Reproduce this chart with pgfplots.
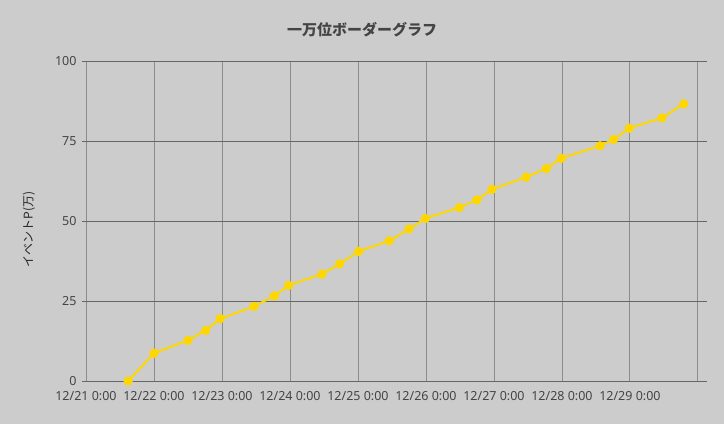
\documentclass[border=0pt]{standalone}
\usepackage{fontspec}
\setmainfont{Noto Sans}
\newfontfamily\jp{Noto Sans CJK JP}
\usepackage{pgfplots}
\pgfplotsset{compat=1.18}
\definecolor{bgc}{HTML}{CCCCCC}
\definecolor{gold}{HTML}{FFD700}
\definecolor{hgrid}{HTML}{666666}
\definecolor{vgrid}{HTML}{8C8C8C}
\definecolor{txt}{HTML}{444444}
\begin{document}
\begin{tikzpicture}[x=1pt,y=1pt]
\useasboundingbox (0,0) rectangle (724,424);
\fill[bgc] (0,0) rectangle (724,424);
\node[text=txt] at (362,394) {\jp\bfseries\fontsize{15}{18}\selectfont 一万位ボーダーグラフ};
\node[rotate=90,text=black!85] at (29,194.5) {\jp\fontsize{12}{14}\selectfont イベントP(万)};
\begin{axis}[
  at={(86pt,43pt)}, anchor=south west,
  scale only axis, width=616.7pt, height=320pt,
  xmin=0, xmax=9.07, ymin=0, ymax=100,
  axis line style={draw=none},
  xtick={0,1,2,3,4,5,6,7,8,9},
  xticklabels={12/21 0:00,12/22 0:00,12/23 0:00,12/24 0:00,12/25 0:00,12/26 0:00,12/27 0:00,12/28 0:00,12/29 0:00,},
  ytick={25,50,75,100},
  extra y ticks={0},
  extra y tick style={grid style={black,line width=1.4pt}, major tick style={black,line width=1pt}},
  xmajorgrids, ymajorgrids,
  x grid style={vgrid,line width=0.9pt},
  y grid style={hgrid,line width=0.9pt},
  major x tick style={draw=none},
  major y tick style={hgrid,line width=0.9pt},
  tick align=outside, major tick length=4pt,
  ticklabel style={text=txt,font=\fontsize{12.5}{14}\selectfont},
  /pgf/number format/assume math mode=true,
  xticklabel style={yshift=-3pt},
  yticklabel style={xshift=-2pt},
  clip=false,
]
\addplot[gold, line width=2pt, mark=*, mark size=3.6pt, mark options={draw=gold,fill=gold}] coordinates {
(0.62,0) (1.00,8.7) (1.50,12.7) (1.76,15.8) (1.975,19.5) (2.47,23.3) (2.77,26.6) (2.98,29.9)
(3.47,33.4) (3.73,36.6) (4.01,40.5) (4.46,43.8) (4.75,47.5) (4.99,50.8) (5.49,54.2) (5.75,56.6)
(5.97,59.9) (6.47,63.7) (6.77,66.4) (6.99,69.6) (7.56,73.5) (7.76,75.5) (7.99,79.0) (8.47,82.2) (8.79,86.6)
};
\end{axis}
\end{tikzpicture}
\end{document}
